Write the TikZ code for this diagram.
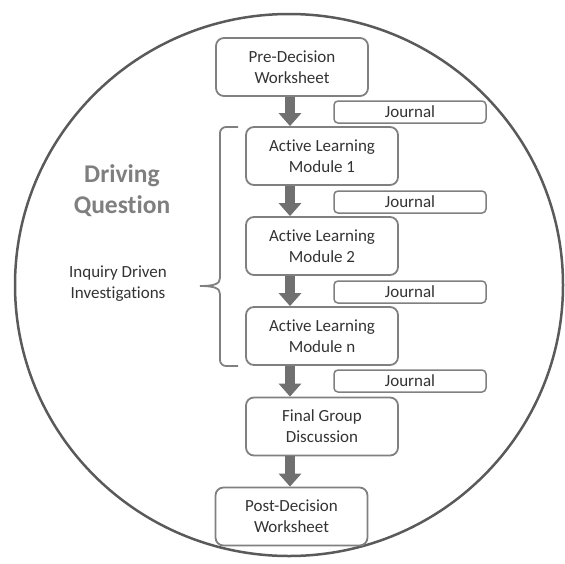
\documentclass[tikz,border=0pt]{standalone}
\usepackage{fontspec}
\setmainfont{Carlito}[Ligatures=NoCommon]
\usetikzlibrary{arrows.meta}

\definecolor{boxline}{HTML}{808080}
\definecolor{boxtext}{HTML}{333333}
\definecolor{arrowfill}{HTML}{707070}
\definecolor{ringline}{HTML}{5A5A5A}
\definecolor{titlegray}{HTML}{7F7F7F}

\tikzset{
  stage/.style={draw=boxline, line width=1.8pt, rounded corners=8pt,
    minimum width=152pt, minimum height=58pt, align=center,
    text=boxtext, font=\fontsize{17}{21}\selectfont},
  journal/.style={draw=boxline, line width=1.5pt, rounded corners=4pt,
    minimum width=152pt, minimum height=22pt, inner sep=0pt,
    text=boxtext, font=\fontsize{17}{21}\selectfont},
  flow/.style={draw=arrowfill, line width=10pt,
    -{Triangle[width=22pt,length=13pt,fill=arrowfill]}},
  bracket/.style={draw=boxline, line width=1.8pt}
}

\begin{document}
\begin{tikzpicture}[x=1pt,y=-1pt]
  \useasboundingbox (0,0) rectangle (565,563);
  \draw[ringline, line width=2.5pt] (289,285) ellipse [x radius=274, y radius=271];

  \node[stage] (pre) at (292,67) {Pre-Decision\\Worksheet};
  \node[stage] (alm1) at (322,156) {Active Learning\\Module 1};
  \node[stage] (alm2) at (322,246) {Active Learning\\Module 2};
  \node[stage] (almn) at (322,336) {Active Learning\\Module n};
  \node[stage] (final) at (322,426.5) {Final Group\\Discussion};
  \node[stage] (post) at (291.5,516.5) {Post-Decision\\Worksheet};

  \node[journal] (j1) at (410,112) {Journal};
  \node[journal] (j2) at (410,202) {Journal};
  \node[journal] (j3) at (410,292) {Journal};
  \node[journal] (j4) at (410,381) {Journal};

  \coordinate (axis) at (290,0);
  \draw[flow] (pre.south -| axis) -- (alm1.north -| axis);
  \draw[flow] (alm1.south -| axis) -- (alm2.north -| axis);
  \draw[flow] (alm2.south -| axis) -- (almn.north -| axis);
  \draw[flow] (almn.south -| axis) -- (final.north -| axis);
  \draw[flow] (final.south -| axis) -- (post.north -| axis);

  \node[text=titlegray, align=center, font=\bfseries\fontsize{25.5}{31}\selectfont] (dq) at (122,191) {Driving\\Question};
  \node[text=boxtext, align=center, font=\fontsize{17}{21}\selectfont] (inq) at (118,284) {Inquiry Driven\\Investigations};

  \draw[bracket] (238,127) -- (226,127) to[out=180,in=90] (220,133) -- (220,278)
    .. controls (220,284) and (214,286) .. (200,286)
    .. controls (214,286) and (220,288) .. (220,294)
    -- (220,360) to[out=-90,in=180] (226,366) -- (238,366);
\end{tikzpicture}
\end{document}
